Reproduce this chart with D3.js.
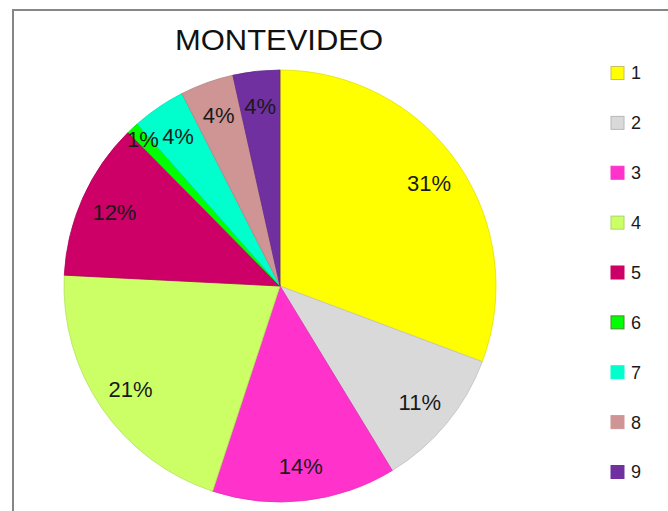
<!DOCTYPE html>
<html>
<head>
<meta charset="utf-8">
<script src="https://cdn.jsdelivr.net/npm/d3@7"></script>
<style>
html,body{margin:0;padding:0;background:#fff;}
svg{display:block;}
text{font-family:"Liberation Sans","DejaVu Sans",sans-serif;}
</style>
</head>
<body>
<svg id="chart" width="668" height="511"></svg>
<script>
const title = "MONTEVIDEO";
const categories = ["1","2","3","4","5","6","7","8","9"];
const values = [30.7, 10.6, 13.75, 20.75, 11.8, 0.9, 4.0, 4.0, 3.5];
const labels = ["31%","11%","14%","21%","12%","1%","4%","4%","4%"];
const colors = ["#FFFF00","#D9D9D9","#FF33CC","#CCFF66","#CC0066","#00FF00","#00FFCC","#CF9494","#7030A0"];
const legendStrokes = ["#c8c060","#b8b8b8","#FF33CC","#a8d860","#CC0066","#4a8a30","#00FFCC","#CF9494","#7030A0"];

const svg = d3.select("#chart");

// frame
svg.append("rect").attr("x",13).attr("y",10).attr("width",700).attr("height",600)
  .attr("fill","#fff").attr("stroke","#868686").attr("stroke-width",2);

// title
svg.append("text").attr("x",279).attr("y",50).attr("text-anchor","middle")
  .attr("font-size",30).attr("fill","#111")
  .attr("textLength",208).attr("lengthAdjust","spacingAndGlyphs")
  .text(title);

const cx = 280, cy = 286, R = 216;
const data = categories.map((c,i)=>({cat:c, value:values[i], label:labels[i], color:colors[i]}));
const pie = d3.pie().value(d=>d.value).sort(null);
const arcs = pie(data);
const arc = d3.arc().innerRadius(0).outerRadius(R);
const g = svg.append("g").attr("transform",`translate(${cx},${cy})`);

g.selectAll("path.slice").data(arcs).enter().append("path")
  .attr("class","slice")
  .attr("d",arc)
  .attr("fill",d=>d.data.color)
  .attr("stroke",d=>d3.color(d.data.color).darker(0.35))
  .attr("stroke-width",0.8);

const labelR = d=> (d.endAngle-d.startAngle) < 0.08 ? 0.93*R : 0.84*R;
g.selectAll("text.lbl").data(arcs).enter().append("text")
  .attr("class","lbl")
  .attr("x",d=>{const a=(d.startAngle+d.endAngle)/2; return Math.sin(a)*labelR(d);})
  .attr("y",d=>{const a=(d.startAngle+d.endAngle)/2; return -Math.cos(a)*labelR(d);})
  .attr("dy","0.36em")
  .attr("text-anchor","middle")
  .attr("font-size",22)
  .attr("fill","#1a1a1a")
  .text(d=>d.data.label);

// legend
const ly = d3.scalePoint().domain(categories).range([73,472]);
const lg = svg.append("g");
const items = lg.selectAll("g").data(data).enter().append("g")
  .attr("transform",d=>`translate(611,${ly(d.cat)})`);
items.append("rect").attr("x",0).attr("y",-6.5).attr("width",13).attr("height",13)
  .attr("fill",d=>d.color)
  .attr("stroke",(d,i)=>legendStrokes[i]).attr("stroke-width",1);
items.append("text").attr("x",20).attr("y",0).attr("dy","0.36em")
  .attr("font-size",18).attr("fill","#1a1a1a").text(d=>d.cat);
</script>
</body>
</html>
